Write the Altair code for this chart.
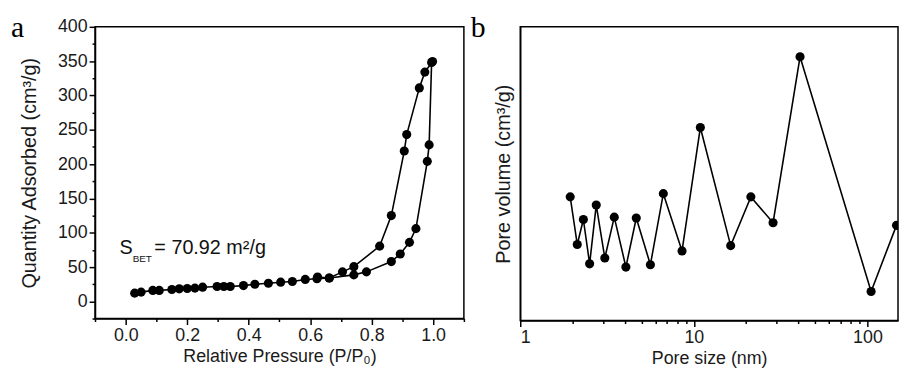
import altair as alt
import pandas as pd

# ---- Panel a: N2 adsorption / desorption isotherm ----
ads_p = [0.029, 0.05, 0.088, 0.109, 0.15, 0.174, 0.2, 0.225, 0.25, 0.297, 0.319, 0.34,
         0.383, 0.42, 0.464, 0.504, 0.542, 0.584, 0.622, 0.662, 0.742, 0.783, 0.864,
         0.893, 0.923, 0.944, 0.981, 0.987, 0.995]
ads_q = [12, 13.5, 16, 16, 17.4, 18.3, 18.8, 19.3, 20.7, 21.7, 21.7, 21.7,
         23, 25, 26.5, 28, 29, 32, 33, 34, 38.6, 43, 58,
         69, 86, 106, 204, 228, 348]
des_p = [0.998, 0.973, 0.955, 0.914, 0.906, 0.864, 0.826, 0.742, 0.705, 0.662, 0.624]
des_q = [349.5, 334, 311, 243, 219, 125, 80.5, 50.6, 43, 34, 35.5]

xa_ticks = [-0.1, 0.0, 0.1, 0.2, 0.3, 0.4, 0.5, 0.6, 0.7, 0.8, 0.9, 1.0, 1.1]
ya_ticks = [-25, 0, 25, 50, 75, 100, 125, 150, 175, 200, 225, 250, 275, 300, 325, 350, 375, 400]

# ---- Panel b: pore size distribution ----
pore_size = [1.94, 2.13, 2.31, 2.51, 2.74, 3.07, 3.48, 4.06, 4.66, 5.62, 6.67, 8.55,
             10.9, 16.3, 21.3, 28.6, 40.9, 105, 147]
pore_vol = [0.421, 0.259, 0.344, 0.193, 0.393, 0.213, 0.352, 0.182, 0.349, 0.19,
            0.432, 0.237, 0.657, 0.255, 0.421, 0.333, 0.898, 0.099, 0.324]
xb_ticks = [1, 2, 3, 4, 5, 6, 7, 8, 9, 10, 20, 30, 40, 50, 60, 70, 80, 90, 100]

# annotation
ann_text = ["S", "BET", "= 70.92 m\u00b2/g"]
ann_p = [-0.02, 0.0225, 0.093]
ann_q = [69, 58, 69]
ann_size = [20, 10, 20]

FONT = "Liberation Sans"
BLACK = "#000000"

dfa = pd.DataFrame({
    "p": ads_p + des_p,
    "q": ads_q + des_q,
    "branch": ["ads"] * len(ads_p) + ["des"] * len(des_p),
    "i": list(range(len(ads_p))) + list(range(len(des_p))),
})
dfb = pd.DataFrame({"d": pore_size, "v": pore_vol, "i": list(range(len(pore_size)))})
dfann = pd.DataFrame({"p": ann_p, "q": ann_q, "t": ann_text, "s": ann_size})

xa = alt.X("p:Q", scale=alt.Scale(domain=[-0.1, 1.1], nice=False, zero=False),
           axis=alt.Axis(values=xa_ticks, title="Relative Pressure (P/P\u2080)",
                         labelExpr="round(datum.value*10)%2==0 ? format(datum.value,'.1f') : ''",
                         tickSize={"condition": {"test": "round(datum.value*10)%2==0", "value": 6}, "value": 3}))
ya = alt.Y("q:Q", scale=alt.Scale(domain=[-25, 400], nice=False, zero=False),
           axis=alt.Axis(values=ya_ticks, title="Quantity Adsorbed (cm\u00b3/g)",
                         labelFontSize=18, titlePadding=18,
                         labelExpr="(datum.value%50==0 && datum.value>=0) ? format(datum.value,'d') : ''",
                         tickSize={"condition": {"test": "datum.value%50==0", "value": 6}, "value": 3}))

line_a = alt.Chart(dfa).mark_line(color=BLACK, strokeWidth=1.6).encode(
    x=xa, y=ya, detail="branch:N", order="i:Q")
pts_a = alt.Chart(dfa).mark_circle(size=85, color=BLACK, opacity=1).encode(x=xa, y=ya)
ann = alt.Chart(dfann).mark_text(align="left", baseline="alphabetic", font=FONT, color="#111").encode(
    x=xa, y=ya, text="t:N", size=alt.Size("s:Q", scale=None, legend=None))
lab_a = alt.Chart(pd.DataFrame({"t": ["a"]})).mark_text(
    font="Liberation Serif", fontSize=30, align="left", baseline="alphabetic", color=BLACK
).encode(text="t:N", x=alt.value(-85), y=alt.value(10))

panel_a = alt.layer(line_a, pts_a, ann, lab_a).properties(width=373, height=295)

xb = alt.X("d:Q", scale=alt.Scale(type="log", domain=[1, 150], nice=False),
           axis=alt.Axis(values=xb_ticks, title="Pore size (nm)",
                         labelExpr="(datum.value==1||datum.value==10||datum.value==100) ? datum.label : ''",
                         tickSize={"condition": {"test": "datum.value==1||datum.value==10||datum.value==100", "value": 6}, "value": 3}))
yb = alt.Y("v:Q", scale=alt.Scale(domain=[0, 1], nice=False),
           axis=alt.Axis(title="Pore volume (cm\u00b3/g)", labels=False, ticks=False,
                         titleFontSize=20, titlePadding=7))

line_b = alt.Chart(dfb).mark_line(color=BLACK, strokeWidth=1.6, clip=True).encode(x=xb, y=yb, order="i:Q")
pts_b = alt.Chart(dfb).mark_circle(size=85, color=BLACK, opacity=1, clip=True).encode(x=xb, y=yb)
lab_b = alt.Chart(pd.DataFrame({"t": ["b"]})).mark_text(
    font="Liberation Serif", fontSize=30, align="left", baseline="alphabetic", color=BLACK
).encode(text="t:N", x=alt.value(-50), y=alt.value(10))

panel_b = alt.layer(line_b, pts_b, lab_b).properties(width=382, height=297)

chart = alt.HConcatChart(hconcat=[panel_a, panel_b], spacing=57, bounds="flush").properties(
    padding={"left": 2, "top": 2, "right": 0, "bottom": 0},
    background="white",
).configure_view(stroke=BLACK, strokeWidth=1.5).configure_axis(
    grid=False, domainColor=BLACK, domainWidth=1.5, tickColor=BLACK, tickWidth=1.5,
    labelFont=FONT, labelFontSize=18, labelColor="#1a1a1a", labelPadding=2,
    titleFont=FONT, titleFontSize=18, titleFontWeight="normal", titleColor="#1a1a1a",
    titlePadding=3
).configure_axisY(titleFontSize=20)

chart.save("out.html", embed_options={"renderer": "svg", "actions": False})
